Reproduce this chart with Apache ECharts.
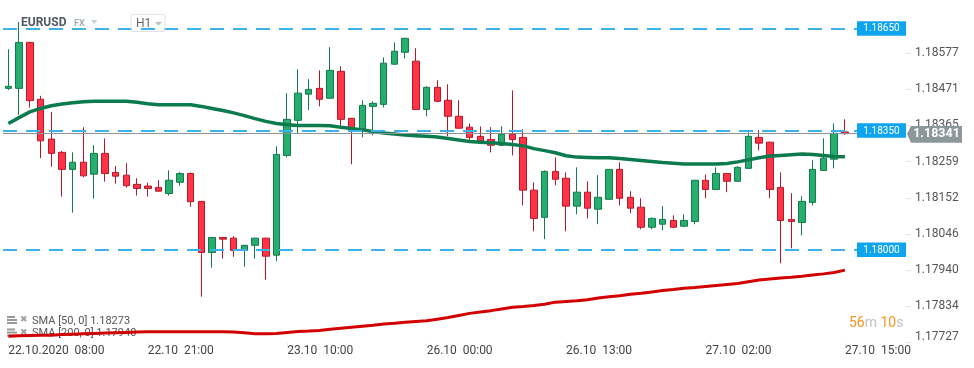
<!DOCTYPE html>
<html><head><meta charset="utf-8">
<script src="https://cdn.jsdelivr.net/npm/echarts@6/dist/echarts.min.js"></script>
<style>html,body{margin:0;padding:0;background:#fff}#c{width:974px;height:368px}</style>
</head><body><div id="c"></div>
<script>
// ---- data ----
const sessions = [['22.10', 8, 23], ['23.10', 0, 22], ['26.10', 0, 23], ['27.10', 0, 16]];
const categories = [];
sessions.forEach(([d, a, b]) => { for (let h = a; h <= b; h++) categories.push(d + ' ' + String(h).padStart(2, '0') + ':00'); });
const tickIndex = [0, 13, 26, 39, 52, 65, 78];
const tickLabels = ['22.10.2020  08:00', '22.10  21:00', '23.10  10:00', '26.10  00:00', '26.10  13:00', '27.10  02:00', '27.10  15:00'];
const yTicks = [1.17727, 1.17834, 1.17940, 1.18046, 1.18152, 1.18259, 1.18365, 1.18471, 1.18577];
// [open, close, low, high]
const ohlc = [
[1.18474,1.18480,1.18469,1.18589],[1.18474,1.18609,1.18396,1.18669],[1.18609,1.18438,1.18418,1.18611],[1.18442,1.18320,1.18269,1.18452],
[1.18325,1.18283,1.18244,1.18405],[1.18286,1.18236,1.18156,1.18290],[1.18236,1.18257,1.18109,1.18286],[1.18257,1.18217,1.18213,1.18360],
[1.18222,1.18283,1.18150,1.18307],[1.18283,1.18224,1.18200,1.18327],[1.18227,1.18216,1.18194,1.18246],[1.18219,1.18188,1.18182,1.18254],
[1.18192,1.18180,1.18159,1.18210],[1.18187,1.18180,1.18156,1.18197],[1.18183,1.18172,1.18171,1.18204],[1.18165,1.18204,1.18159,1.18233],
[1.18198,1.18224,1.18188,1.18228],[1.18224,1.18141,1.18126,1.18227],[1.18142,1.17992,1.17862,1.18143],[1.17992,1.18036,1.17947,1.18037],
[1.18036,1.18031,1.17974,1.18037],[1.18034,1.17998,1.17979,1.18040],[1.17998,1.18013,1.17950,1.18014],[1.18013,1.18034,1.17974,1.18035],
[1.18034,1.17981,1.17912,1.18035],[1.17984,1.18280,1.17966,1.18304],[1.18277,1.18383,1.18271,1.18460],[1.18380,1.18460,1.18342,1.18530],
[1.18457,1.18471,1.18410,1.18501],[1.18474,1.18442,1.18421,1.18527],[1.18445,1.18527,1.18444,1.18595],[1.18524,1.18383,1.18365,1.18539],
[1.18386,1.18351,1.18251,1.18387],[1.18354,1.18424,1.18330,1.18439],[1.18421,1.18430,1.18336,1.18436],[1.18427,1.18548,1.18418,1.18565],
[1.18545,1.18583,1.18544,1.18609],[1.18580,1.18621,1.18562,1.18622],[1.18554,1.18412,1.18410,1.18592],[1.18412,1.18477,1.18392,1.18480],
[1.18477,1.18436,1.18433,1.18498],[1.18439,1.18392,1.18333,1.18486],[1.18392,1.18357,1.18356,1.18439],[1.18360,1.18330,1.18318,1.18371],
[1.18333,1.18320,1.18318,1.18362],[1.18324,1.18307,1.18286,1.18360],[1.18307,1.18339,1.18304,1.18363],[1.18339,1.18324,1.18277,1.18468],
[1.18330,1.18175,1.18130,1.18354],[1.18175,1.18092,1.18054,1.18198],[1.18095,1.18230,1.18031,1.18233],[1.18230,1.18207,1.18189,1.18271],
[1.18210,1.18128,1.18054,1.18227],[1.18128,1.18169,1.18104,1.18242],[1.18169,1.18122,1.18092,1.18201],[1.18119,1.18154,1.18075,1.18219],
[1.18148,1.18236,1.18147,1.18237],[1.18236,1.18151,1.18130,1.18257],[1.18154,1.18122,1.18107,1.18172],[1.18125,1.18066,1.18060,1.18151],
[1.18066,1.18092,1.18060,1.18095],[1.18075,1.18089,1.18057,1.18128],[1.18086,1.18066,1.18063,1.18101],[1.18069,1.18086,1.18066,1.18104],
[1.18083,1.18204,1.18075,1.18205],[1.18204,1.18177,1.18151,1.18221],[1.18177,1.18224,1.18176,1.18242],[1.18224,1.18201,1.18169,1.18225],
[1.18201,1.18242,1.18200,1.18245],[1.18239,1.18333,1.18238,1.18345],[1.18330,1.18313,1.18292,1.18351],[1.18316,1.18177,1.18151,1.18317],
[1.18183,1.18086,1.17960,1.18227],[1.18089,1.18083,1.18004,1.18166],[1.18080,1.18142,1.18042,1.18157],[1.18139,1.18236,1.18130,1.18263],
[1.18233,1.18269,1.18232,1.18327],[1.18266,1.18342,1.18239,1.18371],[1.18346,1.18341,1.18338,1.18383]
];
const sma50 = [
1.18371,1.18388,1.18405,1.18415,1.18423,1.18428,1.18432,1.18435,1.18436,1.18436,
1.18436,1.18436,1.18433,1.18429,1.18426,1.18426,1.18426,1.18426,1.18421,1.18415,
1.18409,1.18402,1.18394,1.18385,1.18377,1.18371,1.18367,1.18365,1.18365,1.18365,
1.18364,1.18360,1.18356,1.18352,1.18347,1.18343,1.18340,1.18337,1.18335,1.18333,
1.18331,1.18327,1.18322,1.18318,1.18316,1.18314,1.18312,1.18309,1.18305,1.18297,
1.18291,1.18285,1.18276,1.18272,1.18271,1.18270,1.18270,1.18268,1.18265,1.18262,
1.18259,1.18256,1.18254,1.18252,1.18252,1.18252,1.18252,1.18253,1.18258,1.18264,
1.18270,1.18275,1.18277,1.18279,1.18281,1.18280,1.18277,1.18274,1.18273
];
const sma200 = [
1.17746,1.17747,1.17748,1.17749,1.17749,1.17751,1.17752,1.17753,1.17754,1.17755,
1.17756,1.17757,1.17758,1.17759,1.17759,1.17759,1.17759,1.17759,1.17759,1.17759,
1.17759,1.17758,1.17756,1.17753,1.17753,1.17754,1.17757,1.17760,1.17761,1.17763,
1.17766,1.17769,1.17772,1.17775,1.17778,1.17782,1.17784,1.17787,1.17789,1.17791,
1.17796,1.17801,1.17807,1.17813,1.17817,1.17821,1.17826,1.17831,1.17833,1.17836,
1.17840,1.17846,1.17848,1.17850,1.17853,1.17858,1.17862,1.17865,1.17869,1.17872,
1.17876,1.17880,1.17883,1.17887,1.17889,1.17892,1.17895,1.17898,1.17901,1.17906,
1.17911,1.17914,1.17917,1.17919,1.17922,1.17926,1.17929,1.17933,1.17940
];
const levels = [1.18650, 1.18350, 1.18000];
const lastPrice = 1.18341;
const legendRows = [['SMA [50, 0]', 1.18273], ['SMA [200, 0]', 1.17940]];
const symbolName = 'EURUSD', marketName = 'FX', periodName = 'H1';
const countdown = ['56', 'm', '10', 's'];

// ---- chart ----
const FONT = 'Roboto';
const chart = echarts.init(document.getElementById('c'), null, { renderer: 'canvas' });
const isTick = (i) => tickIndex.indexOf(i) >= 0;
chart.setOption({
  animation: false,
  backgroundColor: '#ffffff',
  grid: { left: 3, top: 0, width: 858, height: 343 },
  xAxis: {
    type: 'category', data: categories, boundaryGap: true,
    axisLine: { show: false },
    axisTick: { show: true, alignWithLabel: true, interval: isTick, length: 4, lineStyle: { color: '#e6e6e6' } },
    axisLabel: { interval: isTick, formatter: (v, i) => { const k = tickIndex.indexOf(i); return k >= 0 ? tickLabels[k] : ''; },
      align: 'left', margin: 2, color: '#444', fontSize: 12, fontFamily: FONT },
    splitLine: { show: false }
  },
  yAxis: {
    type: 'value', position: 'right', offset: 45, min: 1.1772594, max: 1.1873358,
    axisLine: { show: false },
    axisTick: { show: true, length: 5, customValues: yTicks, lineStyle: { color: '#e2e2e2' } },
    axisLabel: { customValues: yTicks, margin: 9, color: '#555', fontSize: 12, fontFamily: FONT,
      formatter: (v) => Math.abs(v - yTicks[0]) < 1e-7 ? '{lo|' + v.toFixed(5) + '}' : v.toFixed(5),
      rich: { lo: { color: '#555', fontSize: 12, fontFamily: FONT, padding: [0, 0, 11, 0] } } },
    splitLine: { show: false }
  },
  series: [
    { type: 'candlestick', data: ohlc, barWidth: 7, silent: true,
      itemStyle: { color: '#27ad6e', color0: '#ff3447', borderColor: '#137a4b', borderColor0: '#b3192b', borderWidth: 1 },
      markLine: { silent: true, precision: 5, symbol: ['none', 'none'], animation: false, label: { show: false },
        data: [{ yAxis: lastPrice, lineStyle: { type: 'solid', color: '#8e959a', width: 1 } }]
          .concat(levels.map(v => ({ yAxis: v, lineStyle: { type: [14, 9], color: '#3bb2ea', width: 2 } }))) } },
    { type: 'line', data: sma50, showSymbol: false, silent: true, z: 3, lineStyle: { width: 3.5, color: '#0b7b4f' } },
    { type: 'line', data: sma200, showSymbol: false, silent: true, z: 3, lineStyle: { width: 3, color: '#d20000' } }
  ]
});

const px = (v) => chart.convertToPixel({ yAxisIndex: 0 }, v);
const g = [];
levels.forEach(v => {
  const y = px(v);
  g.push({ type: 'rect', z: 100, shape: { x: 857, y: y - 7.2, width: 49, height: 14.5 }, style: { fill: '#0fa5ee' } });
  g.push({ type: 'text', z: 101, x: 881.5, y: y + 0.5, style: { text: v.toFixed(5), fill: '#ffffff', font: '10px Roboto', align: 'center', verticalAlign: 'middle' } });
});
{
  const y = px(lastPrice);
  g.push({ type: 'polygon', z: 102, shape: { points: [[907, y], [911, y - 7.7], [962, y - 7.7], [962, y + 9], [911, y + 9]] }, style: { fill: '#8c979c' } });
  g.push({ type: 'text', z: 103, x: 936.5, y: y + 0.7, style: { text: lastPrice.toFixed(5), fill: '#ffffff', font: 'bold 12.5px Roboto', align: 'center', verticalAlign: 'middle' } });
}
// header
g.push({ type: 'text', z: 50, x: 21, y: 23, style: { text: symbolName, fill: '#4f5862', font: 'bold 12px Roboto', verticalAlign: 'middle' } });
g.push({ type: 'text', z: 50, x: 74, y: 24, style: { text: marketName, fill: '#a3adb6', font: 'bold 9px Roboto', verticalAlign: 'middle' } });
g.push({ type: 'polygon', z: 50, shape: { points: [[91, 20], [97.5, 20], [94.25, 24]] }, style: { fill: '#c9cfd4' } });
g.push({ type: 'rect', z: 50, shape: { x: 131, y: 14.5, width: 34, height: 17, r: 2 }, style: { fill: 'none', stroke: '#e2e2e2', lineWidth: 1 } });
g.push({ type: 'text', z: 50, x: 136, y: 23.5, style: { text: periodName, fill: '#666', font: '12px Roboto', verticalAlign: 'middle' } });
g.push({ type: 'polygon', z: 50, shape: { points: [[155, 22], [162, 22], [158.5, 25.5]] }, style: { fill: '#bcbcbc' } });
// legend
legendRows.forEach((r, k) => {
  const yc = 321 + k * 12.5;
  [0, 3, 6].forEach(d => g.push({ type: 'rect', z: 1, shape: { x: 7, y: yc - 5 + d, width: d === 0 ? 8 : 10, height: 2 }, style: { fill: '#9a9a9a' } }));
  g.push({ type: 'text', z: 1, x: 20, y: yc - 1, style: { text: '✖', fill: '#a0a0a0', font: '9px "DejaVu Sans"', verticalAlign: 'middle' } });
  g.push({ type: 'text', z: 1, x: 32, y: yc, style: { text: r[0] + ' ' + r[1].toFixed(5), fill: '#555', font: '11px Roboto', verticalAlign: 'middle' } });
});
// countdown
g.push({ type: 'text', z: 50, x: 849, y: 323, style: {
  text: '{o|' + countdown[0] + '}{g|' + countdown[1] + '} {o|' + countdown[2] + '}{g|' + countdown[3] + '}',
  font: '14px Roboto', verticalAlign: 'middle',
  rich: { o: { fill: '#f7941d', fontSize: 14, fontFamily: FONT }, g: { fill: '#c3c3c3', fontSize: 14, fontFamily: FONT } } } });
chart.setOption({ graphic: g });
</script></body></html>
